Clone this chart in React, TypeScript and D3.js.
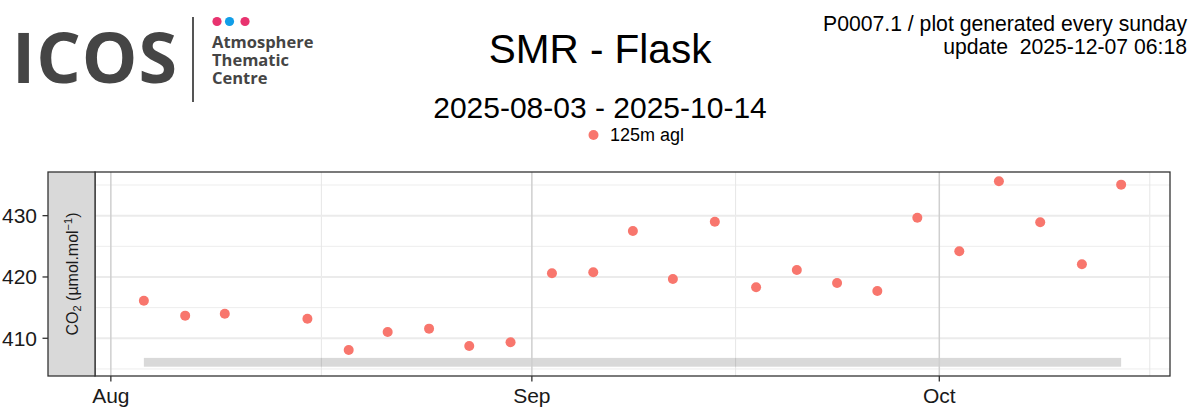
import React from 'react';
import * as d3 from 'd3';

// flask samples, 125m agl
const sampleTimes = [
  '2025-08-03T10:20', '2025-08-06T11:20', '2025-08-09T09:20', '2025-08-15T11:20',
  '2025-08-18T12:20', '2025-08-21T09:10', '2025-08-24T10:20', '2025-08-27T09:20',
  '2025-08-30T10:20', '2025-09-02T11:30', '2025-09-05T12:30', '2025-09-08T10:30',
  '2025-09-11T09:10', '2025-09-14T11:20', '2025-09-17T12:15', '2025-09-20T12:15',
  '2025-09-23T11:20', '2025-09-26T10:30', '2025-09-29T09:10', '2025-10-02T11:20',
  '2025-10-05T09:20', '2025-10-08T10:20', '2025-10-11T12:00', '2025-10-14T09:20',
];
const co2 = [
  416.13, 413.69, 414.01, 413.2, 408.09, 411.03, 411.57, 408.74,
  409.35, 420.6, 420.77, 427.5, 419.67, 429.02, 418.32, 421.14,
  419.02, 417.72, 429.67, 424.19, 435.61, 428.92, 422.07, 435.06,
];
// coverage band under the points (ymin, ymax)
const coverageBand = [405.36, 406.8];
const yTicks = [410, 420, 430];
const yMinorTicks = [405, 415, 425, 435];
const monthTicks = ['2025-08-01', '2025-09-01', '2025-10-01'];
const monthLabels = ['Aug', 'Sep', 'Oct'];
const seriesName = '125m agl';
const logoLines = ['Atmosphere', 'Thematic', 'Centre'];

const W = 1200;
const H = 420;
const panel = { left: 95, right: 1170, top: 172, bottom: 376 };
const stripLeft = 48;
const pointColor = '#F8766D';
const font = '"Liberation Sans", Arial, sans-serif';

const parse = (s: string) => new Date(s + ':00Z');

export default function App() {
  const dates = sampleTimes.map(parse);
  const [t0, t1] = d3.extent(dates) as [Date, Date];
  const tPad = (+t1 - +t0) * 0.05;
  const x = d3.scaleUtc()
    .domain([new Date(+t0 - tPad), new Date(+t1 + tPad)])
    .range([panel.left, panel.right]);

  const [v0, v1] = d3.extent([...co2, coverageBand[0]]) as [number, number];
  const vPad = (v1 - v0) * 0.05;
  const y = d3.scaleLinear()
    .domain([v0 - vPad, v1 + vPad])
    .range([panel.bottom, panel.top]);

  const majors = monthTicks.map(d => new Date(d + 'T00:00:00Z'));
  // minor breaks halfway between month starts
  const allMonths = d3.utcMonth.range(d3.utcMonth.offset(majors[0], -1), d3.utcMonth.offset(majors[majors.length - 1], 2));
  const minors = d3.pairs(allMonths)
    .map(([a, b]) => new Date((+a + +b) / 2))
    .filter(d => x(d) > panel.left && x(d) < panel.right);

  return (
    <div style={{ position: 'absolute', left: 0, top: 0 }}>
      <svg width={W} height={H} style={{ display: 'block', background: '#fff' }}>
        {/* logo */}
        <g>
          <text x={12} y={83} fontFamily='"Open Sans", sans-serif' fontWeight={700} fontSize={70} fill="#454545" letterSpacing={1}>ICOS</text>
          <line x1={193} x2={193} y1={17} y2={102} stroke="#555" strokeWidth={2} />
          <circle cx={217} cy={21.5} r={4.6} fill="#e8336f" />
          <circle cx={229.5} cy={21.5} r={4.6} fill="#119ee8" />
          <circle cx={245} cy={21.5} r={4.6} fill="#e8336f" />
          <text fontFamily='"Open Sans", sans-serif' fontWeight={700} fontSize={16.5} fill="#454545">
            {logoLines.map((s, i) => (
              <tspan key={s} x={212} y={47.5 + i * 18}>{s}</tspan>
            ))}
          </text>
        </g>

        {/* titles */}
        <text x={600} y={63} textAnchor="middle" fontFamily={font} fontSize={40.5} fill="#000">SMR - Flask</text>
        <text x={600} y={118} textAnchor="middle" fontFamily={font} fontSize={30} fill="#000">2025-08-03 - 2025-10-14</text>
        <text x={1187} y={31} textAnchor="end" fontFamily={font} fontSize={21.2} fill="#000">P0007.1 / plot generated every sunday</text>
        <text x={1187} y={54} textAnchor="end" fontFamily={font} fontSize={21.2} fill="#000" style={{ whiteSpace: 'pre' }}>update  2025-12-07 06:18</text>

        {/* legend */}
        <circle cx={593.5} cy={135} r={5} fill={pointColor} />
        <text x={610} y={141} fontFamily={font} fontSize={18} fill="#000">{seriesName}</text>

        {/* panel grid */}
        <rect x={panel.left} y={panel.top} width={panel.right - panel.left} height={panel.bottom - panel.top} fill="#fff" />
        {yMinorTicks.map(v => (
          <line key={'ym' + v} x1={panel.left} x2={panel.right} y1={y(v)} y2={y(v)} stroke="#ededed" strokeWidth={1} />
        ))}
        {minors.map(d => (
          <line key={'xm' + +d} x1={x(d)} x2={x(d)} y1={panel.top} y2={panel.bottom} stroke="#e6e6e6" strokeWidth={1} />
        ))}
        {yTicks.map(v => (
          <line key={'y' + v} x1={panel.left} x2={panel.right} y1={y(v)} y2={y(v)} stroke="#ebebeb" strokeWidth={2} />
        ))}

        {/* coverage band */}
        <rect x={x(t0)} width={x(t1) - x(t0)} y={y(coverageBand[1])} height={y(coverageBand[0]) - y(coverageBand[1])}
          fill="#000" fillOpacity={0.15} />

        {majors.map(d => (
          <line key={'xM' + +d} x1={x(d)} x2={x(d)} y1={panel.top} y2={panel.bottom} stroke="#cfcfcf" strokeWidth={1.5} />
        ))}

        {/* points */}
        {dates.map((d, i) => (
          <circle key={i} cx={x(d)} cy={y(co2[i])} r={5} fill={pointColor} />
        ))}

        <rect x={panel.left} y={panel.top} width={panel.right - panel.left} height={panel.bottom - panel.top}
          fill="none" stroke="#333" strokeWidth={1.3} />

        {/* strip with y title */}
        <rect x={stripLeft} y={panel.top} width={panel.left - stripLeft} height={panel.bottom - panel.top}
          fill="#d9d9d9" stroke="#333" strokeWidth={1.3} />
        <text transform={`translate(78,${(panel.top + panel.bottom) / 2}) rotate(-90)`} textAnchor="middle"
          fontFamily={font} fontSize={16} fill="#1a1a1a">
          CO<tspan fontSize={11} dy={3}>2</tspan><tspan dy={-3}> (µmol.mol</tspan><tspan fontSize={11} dy={-6}>−1</tspan><tspan dy={6}>)</tspan>
        </text>

        {/* y axis */}
        {yTicks.map(v => (
          <g key={'ya' + v}>
            <line x1={42.5} x2={stripLeft} y1={y(v)} y2={y(v)} stroke="#333" strokeWidth={1.3} />
            <text x={37} y={y(v) + 7.5} textAnchor="end" fontFamily={font} fontSize={21} fill="#1a1a1a">{v}</text>
          </g>
        ))}

        {/* x axis */}
        {majors.map((d, i) => (
          <g key={'xa' + i}>
            <line x1={x(d)} x2={x(d)} y1={panel.bottom} y2={panel.bottom + 5.5} stroke="#333" strokeWidth={1.3} />
            <text x={x(d)} y={403} textAnchor="middle" fontFamily={font} fontSize={21} fill="#1a1a1a">{monthLabels[i]}</text>
          </g>
        ))}
      </svg>
    </div>
  );
}
